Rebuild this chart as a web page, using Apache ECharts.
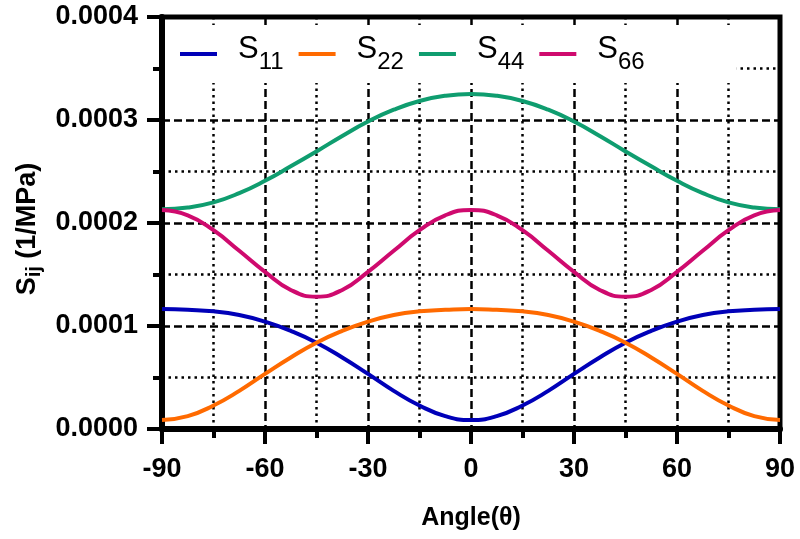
<!DOCTYPE html>
<html>
<head>
<meta charset="utf-8">
<script src="https://cdn.jsdelivr.net/npm/echarts@6/dist/echarts.min.js"></script>
<style>
  html, body { margin: 0; padding: 0; background: #fff; }
  #chart { width: 800px; height: 539px; }
</style>
</head>
<body>
<div id="chart"></div>
<script>
// angulos (grados)
var angulos = [-90, -82.5, -75, -67.5, -60, -52.5, -45, -37.5, -30, -22.5, -15, -7.5, 0,
  7.5, 15, 22.5, 30, 37.5, 45, 52.5, 60, 67.5, 75, 82.5, 90];

// valores (1/MPa)
var s11 = [0.0001165, 0.0001157, 0.0001143, 0.0001107, 0.0001042, 0.0000952, 0.0000838, 0.0000695, 0.0000535,
  0.0000370, 0.0000228, 0.0000125, 0.0000087, 0.0000125, 0.0000228, 0.0000370, 0.0000535, 0.0000695,
  0.0000838, 0.0000952, 0.0001042, 0.0001107, 0.0001143, 0.0001157, 0.0001165];
var s22 = [0.0000087, 0.0000125, 0.0000228, 0.0000370, 0.0000535, 0.0000695, 0.0000838, 0.0000952, 0.0001042,
  0.0001107, 0.0001143, 0.0001157, 0.0001165, 0.0001157, 0.0001143, 0.0001107, 0.0001042, 0.0000952,
  0.0000838, 0.0000695, 0.0000535, 0.0000370, 0.0000228, 0.0000125, 0.0000087];
var s44 = [0.0002133, 0.0002150, 0.0002200, 0.0002290, 0.0002410, 0.0002550, 0.0002695, 0.0002845, 0.0002985,
  0.0003100, 0.0003185, 0.0003235, 0.0003252, 0.0003235, 0.0003185, 0.0003100, 0.0002985, 0.0002845,
  0.0002695, 0.0002550, 0.0002410, 0.0002290, 0.0002200, 0.0002150, 0.0002133];
var s66 = [0.0002126, 0.0002075, 0.0001930, 0.0001730, 0.0001525, 0.0001350, 0.0001285, 0.0001350, 0.0001525,
  0.0001730, 0.0001930, 0.0002075, 0.0002126, 0.0002075, 0.0001930, 0.0001730, 0.0001525, 0.0001350,
  0.0001285, 0.0001350, 0.0001525, 0.0001730, 0.0001930, 0.0002075, 0.0002126];

var nombres = ['S11', 'S22', 'S44', 'S66'];
var colores = ['#0000b8', '#ff6a00', '#0f9d6f', '#cf0a6e'];

function pares(ys) {
  return angulos.map(function (a, i) { return [a, ys[i]]; });
}

var chart = echarts.init(document.getElementById('chart'));

var fuente = 'Liberation Sans, Arial';
// estilo de la malla
var malla = { color: '#000', width: 2.5, type: [8, 4] };
var mallaMenor = { color: '#000', width: 2.5, type: [2.5, 4] };

var option = {
  animation: false,
  grid: {
    left: 162, right: 20, top: 17, bottom: 110,
    show: true, borderColor: '#000', borderWidth: 5, backgroundColor: 'transparent'
  },
  legend: {
    left: 167, top: 25,
    backgroundColor: '#fff',
    padding: [9, 92, 9, 13],
    icon: 'rect',
    itemWidth: 37, itemHeight: 4,
    itemGap: 15,
    data: nombres,
    formatter: function (n) {
      return '{g|}{s|S}{sub|' + n.slice(1) + '}';
    },
    textStyle: {
      rich: {
        g: { width: 16, height: 40 },
        s: { fontFamily: fuente, fontSize: 31, color: '#000', lineHeight: 34, verticalAlign: 'top' },
        sub: { fontFamily: fuente, fontSize: 24, color: '#000', lineHeight: 24, verticalAlign: 'bottom' }
      }
    }
  },
  xAxis: {
    type: 'value', min: -90, max: 90, interval: 30,
    name: 'Angle(θ)', nameLocation: 'middle', nameGap: 77,
    nameTextStyle: { fontFamily: fuente, fontWeight: 'bold', fontSize: 25, color: '#000' },
    axisLine: { show: true, onZero: false, lineStyle: { color: '#000', width: 6 } },
    axisTick: { show: true, length: 15, lineStyle: { color: '#000', width: 4 } },
    minorTick: { show: true, splitNumber: 2, length: 9, lineStyle: { color: '#000', width: 4 } },
    axisLabel: { margin: 27, fontFamily: fuente, fontWeight: 'bold', fontSize: 27, color: '#000' },
    splitLine: { show: true, lineStyle: malla },
    minorSplitLine: { show: true, lineStyle: mallaMenor }
  },
  yAxis: {
    type: 'value', min: 0, max: 0.0004, interval: 0.0001,
    name: '{s|S}{sub|ij}{n| (1/MPa)}', nameLocation: 'middle', nameGap: 116, nameRotate: 90,
    nameTextStyle: {
      padding: [0, 12, 0, 0],
      rich: {
        s: { fontFamily: fuente, fontWeight: 'bold', fontSize: 27, color: '#000', lineHeight: 30, verticalAlign: 'top' },
        sub: { fontFamily: fuente, fontWeight: 'bold', fontSize: 20, color: '#000', lineHeight: 20, verticalAlign: 'bottom' },
        n: { fontFamily: fuente, fontWeight: 'bold', fontSize: 27, color: '#000', lineHeight: 30, verticalAlign: 'top' }
      }
    },
    axisLine: { show: true, onZero: false, lineStyle: { color: '#000', width: 6 } },
    axisTick: { show: true, length: 15, lineStyle: { color: '#000', width: 4 } },
    minorTick: { show: true, splitNumber: 2, length: 9, lineStyle: { color: '#000', width: 4 } },
    axisLabel: {
      margin: 24, fontFamily: fuente, fontWeight: 'bold', fontSize: 27, color: '#000',
      formatter: function (v) { return v.toFixed(4); }
    },
    splitLine: { show: true, lineStyle: malla },
    minorSplitLine: { show: true, lineStyle: mallaMenor }
  },
  series: [s11, s22, s44, s66].map(function (ys, i) {
    return {
      name: nombres[i],
      type: 'line',
      smooth: 0.5,
      showSymbol: false,
      color: colores[i],
      lineStyle: { width: 4, color: colores[i] },
      data: pares(ys),
      z: 3
    };
  })
};

chart.setOption(option);
</script>
</body>
</html>
